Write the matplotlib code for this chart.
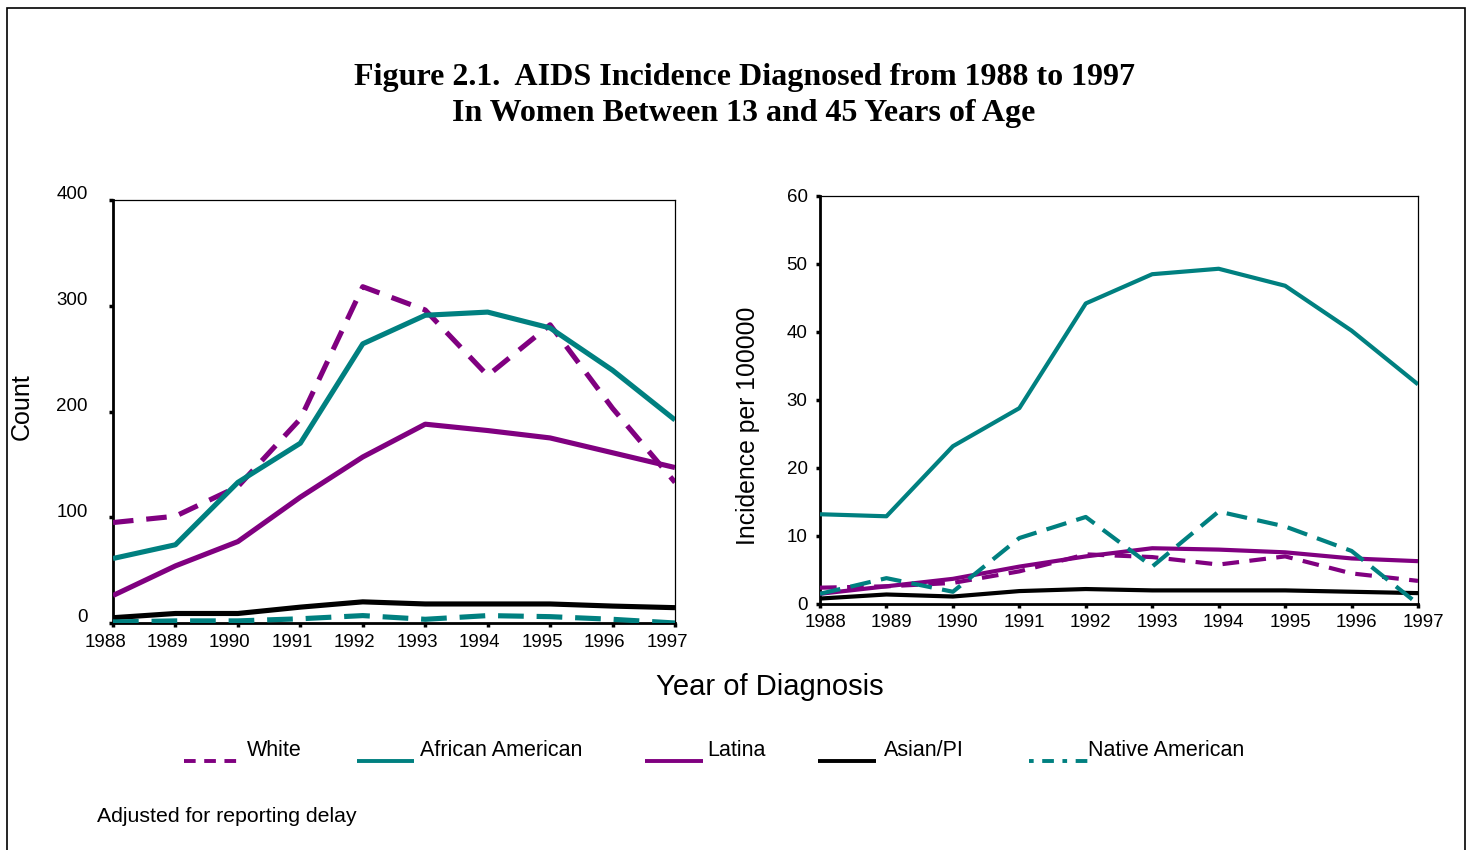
import matplotlib
matplotlib.use("Agg")
import matplotlib.pyplot as plt
from matplotlib.lines import Line2D
from matplotlib.patches import Rectangle
import matplotlib.transforms as mtransforms

years = [1988, 1989, 1990, 1991, 1992, 1993, 1994, 1995, 1996, 1997]
series_names = ["White", "African American", "Latina", "Asian/PI", "Native American"]

count_white = [95, 101, 129, 193, 318, 296, 234, 282, 203, 133]
count_african = [61, 74, 133, 170, 264, 291, 294, 279, 239, 192]
count_latina = [26, 54, 77, 119, 157, 188, 182, 175, 161, 147]
count_asian = [5, 9, 9, 15, 20, 18, 18, 18, 16, 14.5]
count_native = [1, 2, 2, 4, 7, 3.5, 7, 6, 3.5, 0]

rate_white = [2.4, 2.6, 3.1, 4.8, 7.3, 6.9, 5.8, 7.0, 4.5, 3.4]
rate_african = [13.2, 12.9, 23.2, 28.8, 44.2, 48.5, 49.3, 46.8, 40.2, 32.3]
rate_latina = [1.5, 2.6, 3.7, 5.5, 7.0, 8.2, 8.0, 7.6, 6.7, 6.3]
rate_asian = [0.8, 1.4, 1.1, 1.9, 2.2, 2.0, 2.0, 2.0, 1.8, 1.6]
rate_native = [1.5, 3.8, 1.8, 9.7, 12.8, 5.5, 13.6, 11.4, 7.8, 0]

left_yticks = [0, 100, 200, 300, 400]
right_yticks = [0, 10, 20, 30, 40, 50, 60]

TEAL = "#008080"
PURPLE = "#800080"
BLACK = "#000000"

styles = {
    "White": dict(color=PURPLE, dashes=(4, 2.5)),
    "African American": dict(color=TEAL),
    "Latina": dict(color=PURPLE),
    "Asian/PI": dict(color=BLACK),
    "Native American": dict(color=TEAL, dashes=(5, 2.5)),
}

W, H = 1472, 850
fig = plt.figure(figsize=(W / 100, H / 100), dpi=100)

def fx(px):
    return px / W

def fy(py):
    return 1 - py / H

# outer border
fig.add_artist(Rectangle((fx(7), fy(852)), fx(1465) - fx(7), fy(8) - fy(852),
                         transform=fig.transFigure, fill=False, edgecolor="black", lw=1.2))

fig.text(fx(744), fy(77), "Figure 2.1.  AIDS Incidence Diagnosed from 1988 to 1997",
         ha="center", va="center", family="Liberation Serif", weight="bold", fontsize=23)
fig.text(fx(744), fy(114), "In Women Between 13 and 45 Years of Age",
         ha="center", va="center", family="Liberation Serif", weight="bold", fontsize=23)

sans = "Liberation Sans"

def make_axes(l, t, r, b):
    return fig.add_axes([fx(l), fy(b), fx(r) - fx(l), fy(t) - fy(b)])

axL = make_axes(113, 200, 675, 623)
axR = make_axes(820, 196, 1418, 604)

left_data = [count_white, count_african, count_latina, count_asian, count_native]
right_data = [rate_white, rate_african, rate_latina, rate_asian, rate_native]

for name, vals in zip(series_names, left_data):
    st = dict(styles[name])
    axL.plot(years, vals, lw=3.7, solid_capstyle="butt", dash_capstyle="butt", **st)

for name, vals in zip(series_names, right_data):
    st = dict(styles[name])
    axR.plot(years, vals, lw=3.0, solid_capstyle="butt", dash_capstyle="butt", **st)

for ax, yt, ylim in [(axL, left_yticks, (0, 400)), (axR, right_yticks, (0, 60))]:
    ax.set_xlim(1988, 1997)
    ax.set_ylim(*ylim)
    ax.set_xticks(years)
    ax.set_xticklabels([str(y) for y in years], family=sans, fontsize=13.5)
    ax.set_yticks(yt)
    ax.set_yticklabels([str(v) for v in yt], family=sans, fontsize=13.5)
    ax.tick_params(axis="both", direction="out", length=3, width=2.5, color="black")
    for s in ["top", "right"]:
        ax.spines[s].set_linewidth(0.9)
    for s in ["left", "bottom"]:
        ax.spines[s].set_linewidth(2.0)
    for s in ax.spines.values():
        s.set_zorder(0.5)

axL.tick_params(axis="y", pad=15)
axL.tick_params(axis="x", pad=5)
axR.tick_params(axis="y", pad=6)
axR.tick_params(axis="x", pad=4)

# shift tick labels slightly, as in the reference
offL = mtransforms.ScaledTranslation(-8 / 100, 0, fig.dpi_scale_trans)
for lab in axL.get_xticklabels():
    lab.set_transform(lab.get_transform() + offL)
offU = mtransforms.ScaledTranslation(0, 7 / 100, fig.dpi_scale_trans)
for lab in axL.get_yticklabels():
    lab.set_transform(lab.get_transform() + offU)
offR = mtransforms.ScaledTranslation(5 / 100, 0, fig.dpi_scale_trans)
for lab in axR.get_xticklabels():
    lab.set_transform(lab.get_transform() + offR)

fig.text(fx(22), fy(407), "Count", rotation=90, ha="center", va="center", family=sans, fontsize=18)
fig.text(fx(748), fy(426), "Incidence per 100000", rotation=90, ha="center", va="center",
         family=sans, fontsize=17.8)
fig.text(fx(770), fy(687), "Year of Diagnosis", ha="center", va="center", family=sans, fontsize=21)

# legend
leg_pos = [(184, 242, 247), (357, 414, 420), (645, 703, 707), (818, 876, 884), (1029, 1088, 1088)]
for name, (x0, x1, tx) in zip(series_names, leg_pos):
    st = dict(styles[name])
    if "dashes" in st:
        st["dashes"] = (3, 2.2) if name == "White" else (1.2, 2.2, 3, 2.2)
    fig.add_artist(Line2D([fx(x0), fx(x1)], [fy(761), fy(761)], transform=fig.transFigure,
                          lw=2.8, solid_capstyle="butt", dash_capstyle="butt", **st))
    fig.text(fx(tx), fy(750), name, ha="left", va="center", family=sans, fontsize=15.5)

fig.text(fx(97), fy(817), "Adjusted for reporting delay", ha="left", va="center",
         family=sans, fontsize=15.3)

fig.savefig("out.png", dpi=100)
